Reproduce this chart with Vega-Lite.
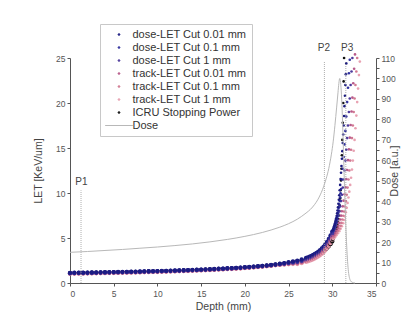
{
"$schema":"https://vega.github.io/schema/vega-lite/v6.json",
"width":306,"height":225,
"autosize":{"type":"none"},
"padding":{"left":70,"top":58,"right":36,"bottom":41},
"background":"white",
"config":{"font":"Liberation Sans","view":{"stroke":null},
 "axis":{"grid":false,"domainColor":"#555","tickColor":"#555","tickSize":3,"labelFontSize":8.5,"labelColor":"#555","titleFontSize":10.5,"titleFontWeight":"normal","titleColor":"#444","labelPadding":2}},
"datasets":{
"flat":[
{"x":0,"a":1.13,"b":1.11,"c":1.08,"d":1.06,"e":1.04,"f":1.02,"g":1.10},
{"x":0.5,"a":1.14,"b":1.12,"c":1.09,"d":1.07,"e":1.05,"f":1.03,"g":1.11},
{"x":1,"a":1.15,"b":1.13,"c":1.10,"d":1.08,"e":1.06,"f":1.04,"g":1.12},
{"x":1.5,"a":1.15,"b":1.13,"c":1.10,"d":1.08,"e":1.06,"f":1.04,"g":1.12},
{"x":2,"a":1.16,"b":1.14,"c":1.11,"d":1.09,"e":1.07,"f":1.05,"g":1.13},
{"x":2.5,"a":1.17,"b":1.15,"c":1.12,"d":1.10,"e":1.08,"f":1.06,"g":1.14},
{"x":3,"a":1.18,"b":1.16,"c":1.13,"d":1.11,"e":1.09,"f":1.07,"g":1.15},
{"x":3.5,"a":1.19,"b":1.17,"c":1.14,"d":1.12,"e":1.10,"f":1.08,"g":1.16},
{"x":4,"a":1.20,"b":1.18,"c":1.15,"d":1.13,"e":1.11,"f":1.09,"g":1.17},
{"x":4.5,"a":1.21,"b":1.19,"c":1.16,"d":1.14,"e":1.12,"f":1.10,"g":1.18},
{"x":5,"a":1.22,"b":1.20,"c":1.17,"d":1.15,"e":1.13,"f":1.11,"g":1.19},
{"x":5.5,"a":1.23,"b":1.21,"c":1.18,"d":1.16,"e":1.14,"f":1.12,"g":1.20},
{"x":6,"a":1.24,"b":1.22,"c":1.19,"d":1.17,"e":1.15,"f":1.13,"g":1.21},
{"x":6.5,"a":1.25,"b":1.23,"c":1.20,"d":1.18,"e":1.16,"f":1.14,"g":1.22},
{"x":7,"a":1.26,"b":1.24,"c":1.21,"d":1.19,"e":1.17,"f":1.15,"g":1.23},
{"x":7.5,"a":1.27,"b":1.25,"c":1.22,"d":1.20,"e":1.18,"f":1.16,"g":1.24},
{"x":8,"a":1.28,"b":1.26,"c":1.23,"d":1.21,"e":1.19,"f":1.17,"g":1.25},
{"x":8.5,"a":1.30,"b":1.28,"c":1.25,"d":1.23,"e":1.21,"f":1.19,"g":1.27},
{"x":9,"a":1.31,"b":1.29,"c":1.26,"d":1.24,"e":1.22,"f":1.20,"g":1.28},
{"x":9.5,"a":1.32,"b":1.30,"c":1.27,"d":1.25,"e":1.23,"f":1.21,"g":1.29},
{"x":10,"a":1.33,"b":1.31,"c":1.28,"d":1.26,"e":1.24,"f":1.22,"g":1.30},
{"x":10.5,"a":1.35,"b":1.33,"c":1.30,"d":1.28,"e":1.26,"f":1.24,"g":1.32},
{"x":11,"a":1.36,"b":1.34,"c":1.31,"d":1.29,"e":1.27,"f":1.25,"g":1.33},
{"x":11.5,"a":1.38,"b":1.36,"c":1.33,"d":1.31,"e":1.29,"f":1.27,"g":1.35},
{"x":12,"a":1.39,"b":1.37,"c":1.34,"d":1.32,"e":1.30,"f":1.28,"g":1.36},
{"x":12.5,"a":1.41,"b":1.39,"c":1.36,"d":1.34,"e":1.32,"f":1.30,"g":1.38},
{"x":13,"a":1.42,"b":1.40,"c":1.37,"d":1.35,"e":1.33,"f":1.31,"g":1.39},
{"x":13.5,"a":1.44,"b":1.42,"c":1.39,"d":1.37,"e":1.35,"f":1.33,"g":1.41},
{"x":14,"a":1.46,"b":1.44,"c":1.41,"d":1.39,"e":1.37,"f":1.35,"g":1.43},
{"x":14.5,"a":1.48,"b":1.46,"c":1.43,"d":1.41,"e":1.39,"f":1.37,"g":1.45},
{"x":15,"a":1.50,"b":1.48,"c":1.45,"d":1.43,"e":1.41,"f":1.39,"g":1.47},
{"x":15.5,"a":1.52,"b":1.50,"c":1.47,"d":1.45,"e":1.43,"f":1.41,"g":1.49},
{"x":16,"a":1.54,"b":1.52,"c":1.49,"d":1.47,"e":1.45,"f":1.43,"g":1.51},
{"x":16.5,"a":1.56,"b":1.54,"c":1.51,"d":1.49,"e":1.47,"f":1.45,"g":1.53},
{"x":17,"a":1.59,"b":1.57,"c":1.54,"d":1.52,"e":1.50,"f":1.48,"g":1.56},
{"x":17.5,"a":1.61,"b":1.59,"c":1.56,"d":1.54,"e":1.52,"f":1.50,"g":1.58},
{"x":18,"a":1.64,"b":1.62,"c":1.59,"d":1.57,"e":1.55,"f":1.53,"g":1.61},
{"x":18.5,"a":1.66,"b":1.64,"c":1.61,"d":1.59,"e":1.57,"f":1.55,"g":1.63},
{"x":19,"a":1.69,"b":1.67,"c":1.64,"d":1.62,"e":1.60,"f":1.58,"g":1.66},
{"x":19.5,"a":1.72,"b":1.70,"c":1.67,"d":1.65,"e":1.63,"f":1.61,"g":1.69},
{"x":20,"a":1.76,"b":1.74,"c":1.71,"d":1.69,"e":1.67,"f":1.65,"g":1.73},
{"x":20.5,"a":1.79,"b":1.77,"c":1.74,"d":1.72,"e":1.70,"f":1.68,"g":1.76},
{"x":21,"a":1.83,"b":1.81,"c":1.78,"d":1.76,"e":1.74,"f":1.72,"g":1.80},
{"x":21.5,"a":1.87,"b":1.85,"c":1.82,"d":1.80,"e":1.78,"f":1.76,"g":1.84},
{"x":22,"a":1.91,"b":1.89,"c":1.86,"d":1.84,"e":1.82,"f":1.80,"g":1.88},
{"x":22.5,"a":1.96,"b":1.94,"c":1.91,"d":1.89,"e":1.87,"f":1.85,"g":1.93},
{"x":23,"a":2.01,"b":1.99,"c":1.96,"d":1.94,"e":1.92,"f":1.90,"g":1.98},
{"x":23.5,"a":2.08,"b":2.05,"c":2.02,"d":2.00,"e":1.98,"f":1.96,"g":2.04},
{"x":24,"a":2.15,"b":2.12,"c":2.08,"d":2.05,"e":2.03,"f":2.01,"g":2.10},
{"x":24.5,"a":2.22,"b":2.18,"c":2.13,"d":2.10,"e":2.07,"f":2.04,"g":2.16},
{"x":25,"a":2.31,"b":2.26,"c":2.20,"d":2.16,"e":2.12,"f":2.08,"g":2.24},
{"x":25.5,"a":2.40,"b":2.34,"c":2.26,"d":2.21,"e":2.16,"f":2.11,"g":2.32},
{"x":26,"a":2.50,"b":2.43,"c":2.33,"d":2.25,"e":2.18,"f":2.10,"g":2.42},
{"x":26.5,"a":2.62,"b":2.54,"c":2.44,"d":2.36,"e":2.28,"f":2.20,"g":2.53},
{"x":27,"a":2.78,"b":2.70,"c":2.59,"d":2.50,"e":2.42,"f":2.34,"g":2.66},
{"x":27.2,"a":2.85,"b":2.76,"c":2.65,"d":2.57,"e":2.48,"f":2.39,"g":2.72},
{"x":27.4,"a":2.93,"b":2.84,"c":2.72,"d":2.64,"e":2.55,"f":2.46,"g":2.78},
{"x":27.6,"a":3.02,"b":2.93,"c":2.81,"d":2.72,"e":2.63,"f":2.54,"g":2.85},
{"x":27.8,"a":3.12,"b":3.03,"c":2.90,"d":2.81,"e":2.71,"f":2.62,"g":2.92},
{"x":28,"a":3.23,"b":3.13,"c":3.00,"d":2.91,"e":2.81,"f":2.71,"g":3.00},
{"x":28.2,"a":3.36,"b":3.26,"c":3.12,"d":3.02,"e":2.92,"f":2.82,"g":3.08},
{"x":28.4,"a":3.50,"b":3.40,"c":3.26,"d":3.15,"e":3.05,"f":2.94,"g":3.18},
{"x":28.6,"a":3.66,"b":3.55,"c":3.40,"d":3.29,"e":3.18,"f":3.07,"g":3.28},
{"x":28.8,"a":3.84,"b":3.72,"c":3.57,"d":3.46,"e":3.34,"f":3.23,"g":3.40},
{"x":29,"a":4.05,"b":3.93,"c":3.77,"d":3.65,"e":3.52,"f":3.40,"g":3.53},
{"x":29.2,"a":4.30,"b":4.17,"c":4.00,"d":3.87,"e":3.74,"f":3.61,"g":3.68},
{"x":29.4,"a":4.58,"b":4.44,"c":4.26,"d":4.12,"e":3.98,"f":3.85,"g":3.86},
{"x":29.6,"a":4.90,"b":4.75,"c":4.56,"d":4.41,"e":4.26,"f":4.12,"g":4.07},
{"x":29.8,"a":5.28,"b":5.12,"c":4.91,"d":4.75,"e":4.59,"f":4.44,"g":4.31},
{"x":30,"a":5.72,"b":5.55,"c":5.32,"d":5.15,"e":4.98,"f":4.80,"g":4.61}
],
"tail":[
{"x":30.05,"s":"g","v":4.75},{"x":30.1,"s":"g","v":4.85},{"x":30.15,"s":"g","v":4.95},{"x":30.2,"s":"g","v":5.05},{"x":30.25,"s":"g","v":5.17},{"x":30.3,"s":"g","v":5.3},{"x":30.35,"s":"g","v":5.45},{"x":30.4,"s":"g","v":5.6},{"x":30.45,"s":"g","v":5.78},{"x":30.5,"s":"g","v":5.98},{"x":30.55,"s":"g","v":6.2},{"x":30.6,"s":"g","v":6.45},{"x":30.65,"s":"g","v":6.75},{"x":30.7,"s":"g","v":7.1},{"x":30.75,"s":"g","v":7.5},{"x":30.8,"s":"g","v":8.0},{"x":30.85,"s":"g","v":8.6},{"x":30.9,"s":"g","v":9.4},{"x":30.95,"s":"g","v":10.3},{"x":31.0,"s":"g","v":11.4},{"x":31.05,"s":"g","v":12.7},{"x":31.1,"s":"g","v":14.2},{"x":31.15,"s":"g","v":15.9},{"x":31.2,"s":"g","v":17.8},{"x":31.25,"s":"g","v":20.0},{"x":31.3,"s":"g","v":22.4},{"x":31.35,"s":"g","v":25.0},
{"x":30.1,"s":"f","v":4.88},{"x":30.2,"s":"f","v":4.96},{"x":30.35,"s":"f","v":5.13},{"x":30.5,"s":"f","v":5.32},{"x":30.65,"s":"f","v":5.53},{"x":30.8,"s":"f","v":5.76},{"x":30.95,"s":"f","v":6.02},{"x":31.1,"s":"f","v":6.31},{"x":31.25,"s":"f","v":6.64},{"x":31.35,"s":"f","v":7.0},{"x":31.45,"s":"f","v":7.4},{"x":31.55,"s":"f","v":7.85},{"x":31.65,"s":"f","v":8.35},{"x":31.75,"s":"f","v":8.9},{"x":31.85,"s":"f","v":9.5},{"x":31.95,"s":"f","v":10.15},{"x":32.05,"s":"f","v":10.9},{"x":32.15,"s":"f","v":11.7},{"x":32.25,"s":"f","v":12.6},{"x":32.35,"s":"f","v":13.6},{"x":32.45,"s":"f","v":14.7},{"x":32.55,"s":"f","v":15.9},{"x":32.65,"s":"f","v":17.2},{"x":32.75,"s":"f","v":18.6},{"x":32.85,"s":"f","v":20.1},{"x":32.95,"s":"f","v":21.6},{"x":33.05,"s":"f","v":23.1},{"x":33.15,"s":"f","v":24.6},
{"x":30.1,"s":"e","v":5.07},{"x":30.2,"s":"e","v":5.16},{"x":30.35,"s":"e","v":5.35},{"x":30.5,"s":"e","v":5.56},{"x":30.65,"s":"e","v":5.8},{"x":30.8,"s":"e","v":6.06},{"x":30.95,"s":"e","v":6.35},{"x":31.05,"s":"e","v":6.68},{"x":31.15,"s":"e","v":7.05},{"x":31.25,"s":"e","v":7.47},{"x":31.35,"s":"e","v":7.95},{"x":31.45,"s":"e","v":8.5},{"x":31.55,"s":"e","v":9.1},{"x":31.65,"s":"e","v":9.8},{"x":31.75,"s":"e","v":10.6},{"x":31.85,"s":"e","v":11.5},{"x":31.95,"s":"e","v":12.5},{"x":32.05,"s":"e","v":13.6},{"x":32.15,"s":"e","v":14.8},{"x":32.25,"s":"e","v":16.1},{"x":32.35,"s":"e","v":17.5},{"x":32.45,"s":"e","v":19.0},{"x":32.55,"s":"e","v":20.5},{"x":32.65,"s":"e","v":22.0},{"x":32.75,"s":"e","v":23.5},{"x":32.85,"s":"e","v":25.0},
{"x":30.05,"s":"d","v":5.25},{"x":30.15,"s":"d","v":5.35},{"x":30.3,"s":"d","v":5.56},{"x":30.45,"s":"d","v":5.8},{"x":30.6,"s":"d","v":6.06},{"x":30.7,"s":"d","v":6.35},{"x":30.8,"s":"d","v":6.68},{"x":30.9,"s":"d","v":7.05},{"x":31.0,"s":"d","v":7.48},{"x":31.1,"s":"d","v":7.97},{"x":31.2,"s":"d","v":8.52},{"x":31.3,"s":"d","v":9.15},{"x":31.4,"s":"d","v":9.85},{"x":31.5,"s":"d","v":10.65},{"x":31.6,"s":"d","v":11.55},{"x":31.7,"s":"d","v":12.55},{"x":31.8,"s":"d","v":13.65},{"x":31.9,"s":"d","v":14.85},{"x":32.0,"s":"d","v":16.15},{"x":32.1,"s":"d","v":17.55},{"x":32.2,"s":"d","v":19.05},{"x":32.3,"s":"d","v":20.6},{"x":32.4,"s":"d","v":22.2},{"x":32.5,"s":"d","v":23.8},{"x":32.6,"s":"d","v":25.4},
{"x":30.05,"s":"c","v":5.45},{"x":30.1,"s":"c","v":5.56},{"x":30.2,"s":"c","v":5.8},{"x":30.3,"s":"c","v":6.06},{"x":30.4,"s":"c","v":6.35},{"x":30.5,"s":"c","v":6.68},{"x":30.6,"s":"c","v":7.05},{"x":30.7,"s":"c","v":7.47},{"x":30.8,"s":"c","v":7.95},{"x":30.9,"s":"c","v":8.5},{"x":31.0,"s":"c","v":9.1},{"x":31.1,"s":"c","v":9.8},{"x":31.2,"s":"c","v":10.6},{"x":31.3,"s":"c","v":11.5},{"x":31.4,"s":"c","v":12.5},{"x":31.5,"s":"c","v":13.6},{"x":31.6,"s":"c","v":14.8},{"x":31.7,"s":"c","v":16.1},{"x":31.8,"s":"c","v":17.5},{"x":31.9,"s":"c","v":19.0},{"x":32.0,"s":"c","v":20.5},{"x":32.1,"s":"c","v":22.0},{"x":32.2,"s":"c","v":23.5},{"x":32.3,"s":"c","v":25.0},
{"x":30.05,"s":"b","v":5.68},{"x":30.1,"s":"b","v":5.8},{"x":30.15,"s":"b","v":5.93},{"x":30.2,"s":"b","v":6.06},{"x":30.25,"s":"b","v":6.2},{"x":30.3,"s":"b","v":6.35},{"x":30.35,"s":"b","v":6.5},{"x":30.4,"s":"b","v":6.67},{"x":30.45,"s":"b","v":6.85},{"x":30.5,"s":"b","v":7.05},{"x":30.55,"s":"b","v":7.27},{"x":30.6,"s":"b","v":7.5},{"x":30.65,"s":"b","v":7.76},{"x":30.7,"s":"b","v":8.05},{"x":30.75,"s":"b","v":8.37},{"x":30.8,"s":"b","v":8.72},{"x":30.85,"s":"b","v":9.1},{"x":30.9,"s":"b","v":9.52},{"x":30.95,"s":"b","v":9.97},{"x":31.0,"s":"b","v":10.45},{"x":31.1,"s":"b","v":11.5},{"x":31.2,"s":"b","v":12.7},{"x":31.3,"s":"b","v":14.0},{"x":31.4,"s":"b","v":15.4},{"x":31.5,"s":"b","v":16.9},{"x":31.6,"s":"b","v":18.5},{"x":31.7,"s":"b","v":20.1},{"x":31.8,"s":"b","v":21.7},{"x":31.9,"s":"b","v":23.3},{"x":32.0,"s":"b","v":24.8},
{"x":30.05,"s":"a","v":5.85},{"x":30.1,"s":"a","v":5.98},{"x":30.15,"s":"a","v":6.12},{"x":30.2,"s":"a","v":6.27},{"x":30.25,"s":"a","v":6.43},{"x":30.3,"s":"a","v":6.6},{"x":30.35,"s":"a","v":6.78},{"x":30.4,"s":"a","v":6.98},{"x":30.45,"s":"a","v":7.2},{"x":30.5,"s":"a","v":7.45},{"x":30.55,"s":"a","v":7.73},{"x":30.6,"s":"a","v":8.05},{"x":30.65,"s":"a","v":8.4},{"x":30.7,"s":"a","v":8.8},{"x":30.75,"s":"a","v":9.25},{"x":30.8,"s":"a","v":9.75},{"x":30.85,"s":"a","v":10.3},{"x":30.9,"s":"a","v":10.9},{"x":30.95,"s":"a","v":11.55},{"x":31.0,"s":"a","v":12.25},{"x":31.05,"s":"a","v":13.0},{"x":31.1,"s":"a","v":13.8},{"x":31.15,"s":"a","v":14.65},{"x":31.2,"s":"a","v":15.55},{"x":31.25,"s":"a","v":16.5},{"x":31.3,"s":"a","v":17.5},{"x":31.35,"s":"a","v":18.55},{"x":31.4,"s":"a","v":19.65},{"x":31.45,"s":"a","v":20.8},{"x":31.5,"s":"a","v":22.0},{"x":31.55,"s":"a","v":23.2},{"x":31.6,"s":"a","v":24.4}
],
"dose":[
{"x":0,"s":"Dose","dose":15},{"x":2,"s":"Dose","dose":15.4},{"x":4,"s":"Dose","dose":15.9},{"x":6,"s":"Dose","dose":16.4},{"x":8,"s":"Dose","dose":17.0},{"x":10,"s":"Dose","dose":17.6},{"x":12,"s":"Dose","dose":18.3},{"x":14,"s":"Dose","dose":19.1},{"x":16,"s":"Dose","dose":20.1},{"x":18,"s":"Dose","dose":21.3},{"x":20,"s":"Dose","dose":22.8},{"x":22,"s":"Dose","dose":24.7},{"x":23,"s":"Dose","dose":25.9},{"x":24,"s":"Dose","dose":27.3},{"x":25,"s":"Dose","dose":29.0},{"x":26,"s":"Dose","dose":31.2},{"x":27,"s":"Dose","dose":34.2},{"x":27.5,"s":"Dose","dose":36.0},{"x":28,"s":"Dose","dose":38.5},{"x":28.5,"s":"Dose","dose":42},{"x":29,"s":"Dose","dose":47},{"x":29.3,"s":"Dose","dose":51},{"x":29.6,"s":"Dose","dose":56},{"x":29.9,"s":"Dose","dose":63},{"x":30.1,"s":"Dose","dose":69},{"x":30.3,"s":"Dose","dose":77},{"x":30.5,"s":"Dose","dose":86},{"x":30.65,"s":"Dose","dose":93},{"x":30.75,"s":"Dose","dose":97.5},{"x":30.85,"s":"Dose","dose":100},{"x":30.95,"s":"Dose","dose":98},{"x":31.05,"s":"Dose","dose":92},{"x":31.15,"s":"Dose","dose":82},{"x":31.25,"s":"Dose","dose":69},{"x":31.35,"s":"Dose","dose":54},{"x":31.45,"s":"Dose","dose":40},{"x":31.55,"s":"Dose","dose":28},{"x":31.65,"s":"Dose","dose":18},{"x":31.75,"s":"Dose","dose":10.5},{"x":31.85,"s":"Dose","dose":5.5},{"x":31.95,"s":"Dose","dose":2.8},{"x":32.1,"s":"Dose","dose":1},{"x":32.3,"s":"Dose","dose":0.3},{"x":32.6,"s":"Dose","dose":0}
],
"marks":[
{"p":"P1","x":1.26,"lo":0,"hi":10.3,"tx":1.3,"ty":11.2},
{"p":"P2","x":29.1,"lo":0,"hi":24.6,"tx":29.05,"ty":26.1},
{"p":"P3","x":31.55,"lo":0,"hi":24.6,"tx":31.7,"ty":26.1}
]
},
"layer":[
{"layer":[
 {"data":{"name":"flat"},
  "transform":[{"fold":["g","f","e","d","c","b","a"],"as":["s","v"]}],
  "mark":{"type":"point","filled":true,"size":18,"opacity":1},
  "encoding":{
   "x":{"field":"x","type":"quantitative","title":"Depth (mm)","scale":{"domain":[0,35],"nice":false,"zero":false},
     "axis":{"title":"Depth (mm)","values":[0,2.5,5,7.5,10,12.5,15,17.5,20,22.5,25,27.5,30,32.5,35],"labelExpr":"datum.value % 5 === 0 ? datum.label : ''","titlePadding":4,"labelPadding":3}},
   "y":{"field":"v","type":"quantitative","title":"LET [KeV/um]","scale":{"domain":[0,25],"nice":false,"zero":false},
     "axis":{"title":"LET [KeV/um]","values":[0,2.5,5,7.5,10,12.5,15,17.5,20,22.5,25],"labelExpr":"datum.value % 5 === 0 ? datum.label : ''","titlePadding":12}},
   "color":{"field":"s","type":"nominal",
     "scale":{"domain":["a","b","c","d","e","f","g","Dose"],"range":["#1c1c82","#30309e","#4e3a9c","#b85a8a","#d27a92","#e8a2b2","#111111","#b8b8b8"]},
     "legend":{"title":null,"orient":"none","legendX":30,"legendY":-34,
       "labelExpr":"datum.value=='a'?'dose-LET Cut 0.01 mm':datum.value=='b'?'dose-LET Cut 0.1 mm':datum.value=='c'?'dose-LET Cut 1 mm':datum.value=='d'?'track-LET Cut 0.01 mm':datum.value=='e'?'track-LET Cut 0.1 mm':datum.value=='f'?'track-LET Cut 1 mm':datum.value=='g'?'ICRU Stopping Power':'Dose'",
       "labelFont":"Liberation Sans","labelFontSize":11,"labelColor":"#333",
       "strokeColor":"#c8c8c8","fillColor":"white","padding":5,
       "symbolSize":3,"symbolOffset":8.5,"labelOffset":8,"rowPadding":1,
       "symbolType":{"expr":"datum.value === 'Dose' ? 'M -16 0 L 16 0' : 'circle'"},
       "symbolStrokeColor":{"expr":"scale('color', datum.value)"},
       "symbolStrokeWidth":1}}
  }},
 {"data":{"name":"tail"},
  "mark":{"type":"point","filled":true,"size":7,"opacity":1},
  "encoding":{
   "x":{"field":"x","type":"quantitative","title":"Depth (mm)"},
   "y":{"field":"v","type":"quantitative","title":"LET [KeV/um]"},
   "color":{"field":"s","type":"nominal","legend":null}
  }},
 {"data":{"name":"marks"},
  "mark":{"type":"rule","color":"#999","strokeWidth":0.8,"strokeDash":[1,1]},
  "encoding":{
   "x":{"field":"x","type":"quantitative","title":"Depth (mm)"},
   "y":{"field":"lo","type":"quantitative","title":"LET [KeV/um]"},
   "y2":{"field":"hi"}
  }},
 {"data":{"name":"marks"},
  "mark":{"type":"text","fontSize":10,"color":"#444","align":"center","baseline":"middle"},
  "encoding":{
   "x":{"field":"tx","type":"quantitative","title":"Depth (mm)"},
   "y":{"field":"ty","type":"quantitative","title":"LET [KeV/um]"},
   "text":{"field":"p"}
  }}
]},
{"data":{"name":"dose"},
 "mark":{"type":"line","strokeWidth":1,"interpolate":"monotone"},
 "encoding":{
  "x":{"field":"x","type":"quantitative","title":"Depth (mm)"},
  "y":{"field":"dose","type":"quantitative","scale":{"domain":[0,110],"nice":false,"zero":false},
    "axis":{"orient":"right","title":"Dose [a.u.]","titleAngle":270,"values":[0,5,10,15,20,25,30,35,40,45,50,55,60,65,70,75,80,85,90,95,100,105,110],"labelExpr":"datum.value % 10 === 0 ? datum.label : ''","titlePadding":4}},
  "color":{"field":"s","type":"nominal","legend":null}
 }}
],
"resolve":{"scale":{"y":"independent"}}
}
